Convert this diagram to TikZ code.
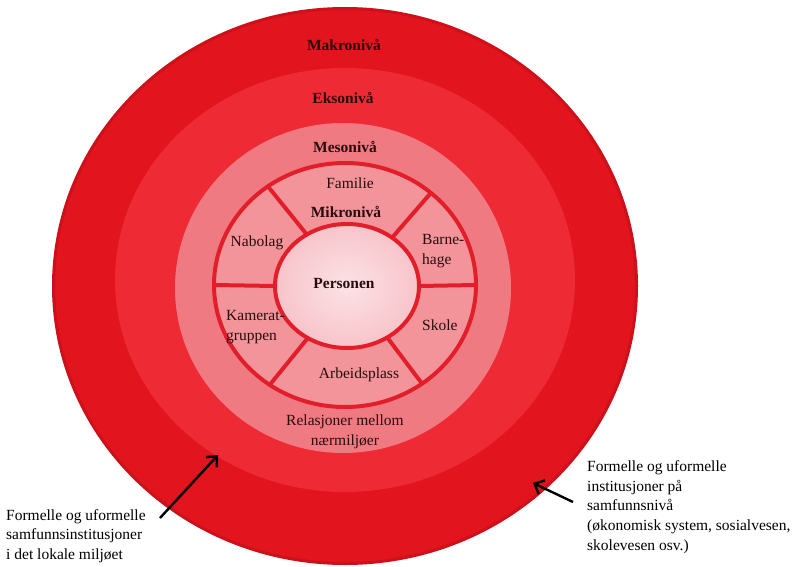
\documentclass[tikz,border=0pt]{standalone}
\usepackage{fontspec}
\setmainfont{Liberation Serif}
\usetikzlibrary{shapes.geometric,arrows.meta}
\definecolor{makroC}{RGB}{226,20,30}
\definecolor{makroE}{RGB}{205,16,26}
\definecolor{eksoC}{RGB}{238,42,53}
\definecolor{mesoC}{RGB}{240,122,130}
\definecolor{mikroC}{RGB}{243,148,155}
\definecolor{personIn}{RGB}{252,226,229}
\definecolor{personOut}{RGB}{247,196,202}
\definecolor{ringC}{RGB}{226,30,42}
\definecolor{txtC}{RGB}{40,12,12}
\begin{document}
\begin{tikzpicture}[x=1pt,y=-1pt,
  layer/.style={ellipse, inner sep=0pt, outer sep=0pt},
  lvl/.style={font=\fontsize{15.5}{19}\selectfont\bfseries, text=txtC, inner sep=0pt},
  lab/.style={font=\fontsize{15.5}{20}\selectfont, text=txtC, inner sep=0pt},
  note/.style={font=\fontsize{15.5}{19.7}\selectfont, text=black, inner sep=0pt, align=left},
  spoke/.style={draw=ringC, line width=4pt},
  pointer/.style={draw=black, line width=2.4pt, -{Straight Barb[length=8pt,width=15pt]}}
]
\useasboundingbox (0,0) rectangle (798,567);
\fill[white] (0,0) rectangle (798,567);

% layers
\node[layer, fill=makroC, draw=makroE, line width=3pt, minimum width=583pt, minimum height=555pt] (makro) at (345,286) {};
\node[layer, fill=eksoC, minimum width=460pt, minimum height=424pt] (ekso) at (345,280) {};
\node[layer, fill=mesoC, minimum width=336pt, minimum height=330pt] (meso) at (343,288) {};
\node[layer, fill=mikroC, draw=ringC, line width=4pt, minimum width=262pt, minimum height=244pt] (mikro) at (345,285) {};
\node[layer, inner color=personIn, outer color=personOut, draw=ringC, line width=4pt, minimum width=144pt, minimum height=124pt] (person) at (347,286) {};

% spokes of the micro ring
\foreach \a in {0,47,128,180,233,308}
  \draw[spoke] (person.\a) -- (mikro.\a);

% level labels
\node[lvl] (tmakro) at (344,45) {Makronivå};
\node[lvl] (tekso) at (343,98) {Eksonivå};
\node[lvl] (tmeso) at (345,147) {Mesonivå};
\node[lvl] (tmikro) at (346,212) {Mikronivå};
\node[lvl] (tperson) at (344,283) {Personen};

% micro segments
\node[lab] (familie) at (350,183) {Familie};
\node[lab] (nabolag) at (257,243) {Nabolag};
\node[lab, align=left, anchor=west] (kamerat) at (226,327) {Kamerat-\\gruppen};
\node[lab] (arbeid) at (359,375) {Arbeidsplass};
\node[lab, align=left, anchor=west] (barnehage) at (422,251) {Barne-\\hage};
\node[lab, anchor=west] (skole) at (422,325) {Skole};
\node[lab, align=center] (relasjon) at (345,432) {Relasjoner mellom\\nærmiljøer};

% notes
\node[note, anchor=west] (noteL) at (6,536) {Formelle og uformelle\\samfunnsinstitusjoner\\i det lokale miljøet};
\node[note, anchor=west] (noteR) at (587,507) {Formelle og uformelle\\institusjoner på\\samfunnsnivå\\(økonomisk system, sosialvesen,\\skolevesen osv.)};

\coordinate (tailL) at (160,518);
\coordinate (headL) at (218,455);
\coordinate (tailR) at (573,502);
\coordinate (headR) at (533,483);
\draw[pointer] (tailL) -- (headL);
\draw[pointer] (tailR) -- (headR);
\end{tikzpicture}
\end{document}
